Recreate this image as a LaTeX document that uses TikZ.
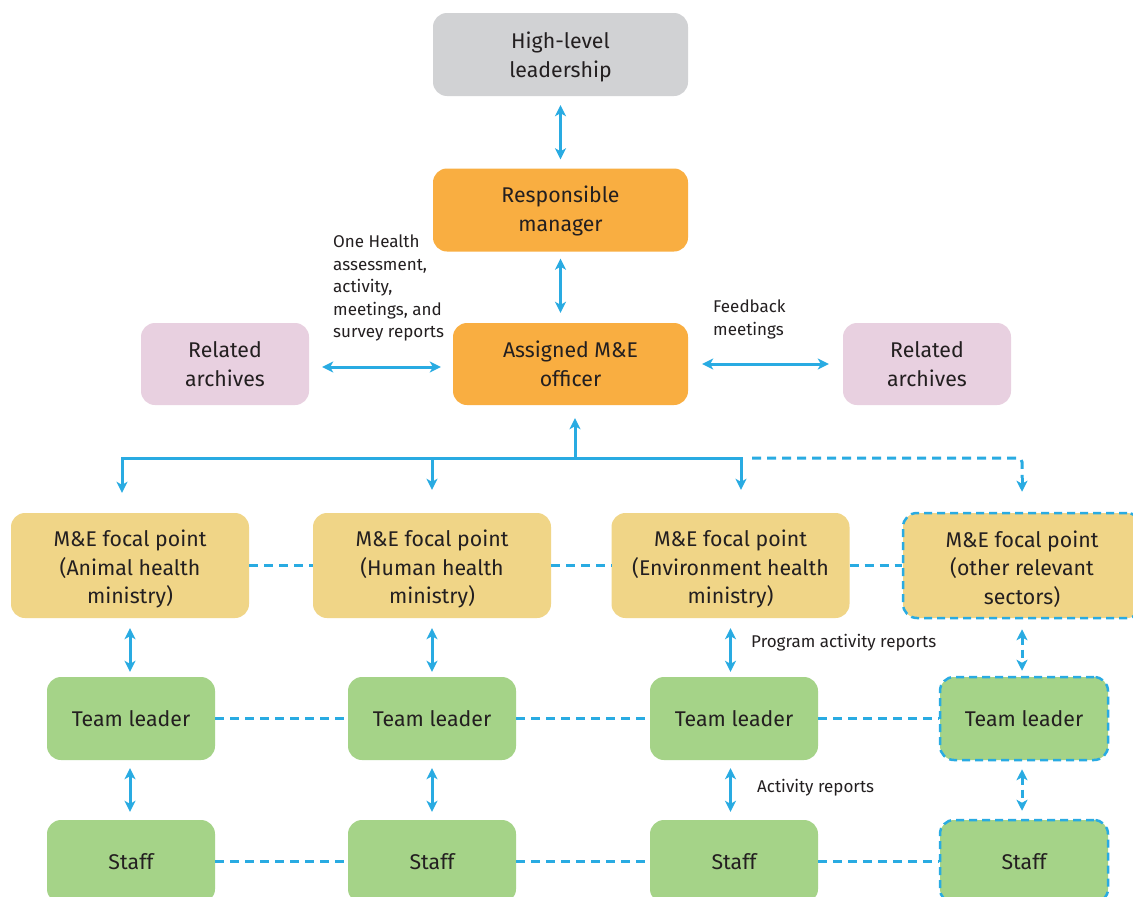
\documentclass[tikz,border=0pt]{standalone}
\usepackage{fontspec}
\setmainfont{Fira Sans}
\usetikzlibrary{arrows.meta,calc}
\definecolor{cgray}{RGB}{209,210,212}
\definecolor{corange}{RGB}{249,174,65}
\definecolor{cpink}{RGB}{232,208,224}
\definecolor{cyellow}{RGB}{240,213,135}
\definecolor{cgreen}{RGB}{165,211,136}
\definecolor{ablue}{RGB}{41,171,226}
\definecolor{txt}{RGB}{35,31,32}
\newcommand\pushdown[1]{\rule{0pt}{#1}}
\begin{document}
\begin{tikzpicture}[x=1pt,y=-1pt,
  box/.style={rounded corners=14pt, align=center, text=txt, inner sep=0pt,
    font=\fontsize{21.3}{28.5}\selectfont},
  bigbox/.style={box, minimum width=255pt, minimum height=83pt},
  midbox/.style={box, minimum width=168pt, minimum height=82pt},
  focal/.style={box, fill=cyellow, minimum width=238pt, minimum height=105pt},
  small/.style={box, fill=cgreen, minimum width=168pt, minimum height=83pt},
  dbox/.style={draw=ablue, line width=2.5pt, dash pattern=on 8pt off 5pt},
  arr/.style={draw=ablue, line width=3pt, {Stealth[length=11pt,width=11pt,inset=3pt]}-{Stealth[length=11pt,width=11pt,inset=3pt]}},
  oneway/.style={draw=ablue, line width=3pt, -{Stealth[length=11pt,width=11pt,inset=3pt]}},
  dline/.style={draw=ablue, line width=3pt, dash pattern=on 9pt off 6pt},
  lbl/.style={text=txt, inner sep=0pt, align=left, font=\fontsize{17}{22.5}\selectfont}
]
\clip (0,0) rectangle (1133,897);
\useasboundingbox (0,0) rectangle (1133,897);
\fill[white] (0,0) rectangle (1133,897);

% top
\node[bigbox, fill=cgray] (hl) at (560.5,54.5) {\pushdown{22pt}High-level\\leadership};
\node[bigbox, fill=corange] (rm) at (560.5,210) {\pushdown{19pt}Responsible\\manager};
\node[box, fill=corange, minimum width=235pt, minimum height=82pt] (ao) at (570.5,364) {Assigned M\&E\\officer};
\node[midbox, fill=cpink] (ra1) at (225,364) {Related\\archives};
\node[midbox, fill=cpink] (ra2) at (927,364) {Related\\archives};

% focal points
\node[focal] (f1) at (130,565.5) {\pushdown{24pt}M\&E focal point\\(Animal health\\ministry)};
\node[focal] (f2) at (432,565.5) {\pushdown{24pt}M\&E focal point\\(Human health\\ministry)};
\node[focal] (f3) at (730.5,565.5) {\pushdown{24pt}M\&E focal point\\(Environment health\\ministry)};
\node[focal, dbox] (f4) at (1022,565.5) {\pushdown{24pt}M\&E focal point\\(other relevant\\sectors)};

% team leaders
\node[small] (t1) at (131,718.5) {Team leader};
\node[small] (t2) at (432,718.5) {Team leader};
\node[small] (t3) at (734,718.5) {Team leader};
\node[small, dbox] (t4) at (1024,718.5) {Team leader};

% staff
\node[small] (s1) at (131,861.5) {Staff};
\node[small] (s2) at (432,861.5) {Staff};
\node[small] (s3) at (734,861.5) {Staff};
\node[small, dbox] (s4) at (1024,861.5) {Staff};

% labels
\node[lbl, anchor=north west] (l1) at (333,235) {One Health\\assessment,\\activity,\\meetings, and\\survey reports};
\node[lbl, anchor=north west] (l2) at (713,300) {Feedback\\meetings};
\node[lbl, anchor=west] (l3) at (751,643) {Program activity reports};
\node[lbl, anchor=west] (l4) at (757,788) {Activity reports};

% vertical top arrows
\draw[arr, shorten <=9pt, shorten >=9pt] (hl.south) -- (rm.north);
\draw[arr, shorten <=7pt, shorten >=10pt] (rm.south) -- (rm.south |- ao.north);

% side arrows
\draw[arr, shorten <=13pt, shorten >=12pt] ([yshift=-3pt]ra1.east) -- ([yshift=-3pt]ao.west);
\draw[arr, shorten <=14pt, shorten >=14pt] (ao.east) -- (ra2.west);

% tree
\coordinate (bus) at (575,458);
\coordinate (dstart) at (752,458);
\draw[oneway, shorten >=13pt] (bus) -- (bus |- ao.south);
\draw[oneway, shorten >=20pt] (bus) -| ([xshift=-8pt]f1.north);
\draw[oneway, shorten >=23pt] (bus) -| (f3.north -| 741,0);
\draw[oneway, shorten >=23pt] (f2.north |- bus) -- (f2.north);
\draw[dline, rounded corners=4pt] (dstart) -| ([yshift=34pt]f4.north);
\draw[oneway, shorten >=20pt] ([yshift=34pt]f4.north) -- (f4.north);

% horizontal dashed links
\draw[dline] (f1.east) -- (f2.west);
\draw[dline] (f2.east) -- (f3.west);
\draw[dline] (f3.east) -- (f4.west);
\draw[dline] (t1.east) -- (t2.west);
\draw[dline] (t2.east) -- (t3.west);
\draw[dline] (t3.east) -- (t4.west);
\draw[dline] (s1.east) -- (s2.west);
\draw[dline] (s2.east) -- (s3.west);
\draw[dline] (s3.east) -- (s4.west);

% focal - team
\draw[arr, shorten <=10pt, shorten >=5pt] (f1.south) -- (f1.south |- t1.north);
\draw[arr, shorten <=10pt, shorten >=5pt] (f2.south) -- (f2.south |- t2.north);
\draw[arr, shorten <=10pt, shorten >=5pt] (f3.south) -- (f3.south |- t3.north);
\draw[arr, dash pattern=on 8pt off 5pt, shorten <=10pt, shorten >=5pt] (f4.south) -- (f4.south |- t4.north);

% team - staff
\draw[arr, shorten <=8pt, shorten >=8pt] (t1.south -| f1.south) -- (s1.north -| f1.south);
\draw[arr, shorten <=8pt, shorten >=8pt] (t2.south) -- (s2.north);
\draw[arr, shorten <=8pt, shorten >=8pt] (t3.south -| f3.south) -- (s3.north -| f3.south);
\draw[arr, dash pattern=on 8pt off 5pt, shorten <=8pt, shorten >=8pt] (t4.south -| f4.south) -- (s4.north -| f4.south);
\end{tikzpicture}
\end{document}
